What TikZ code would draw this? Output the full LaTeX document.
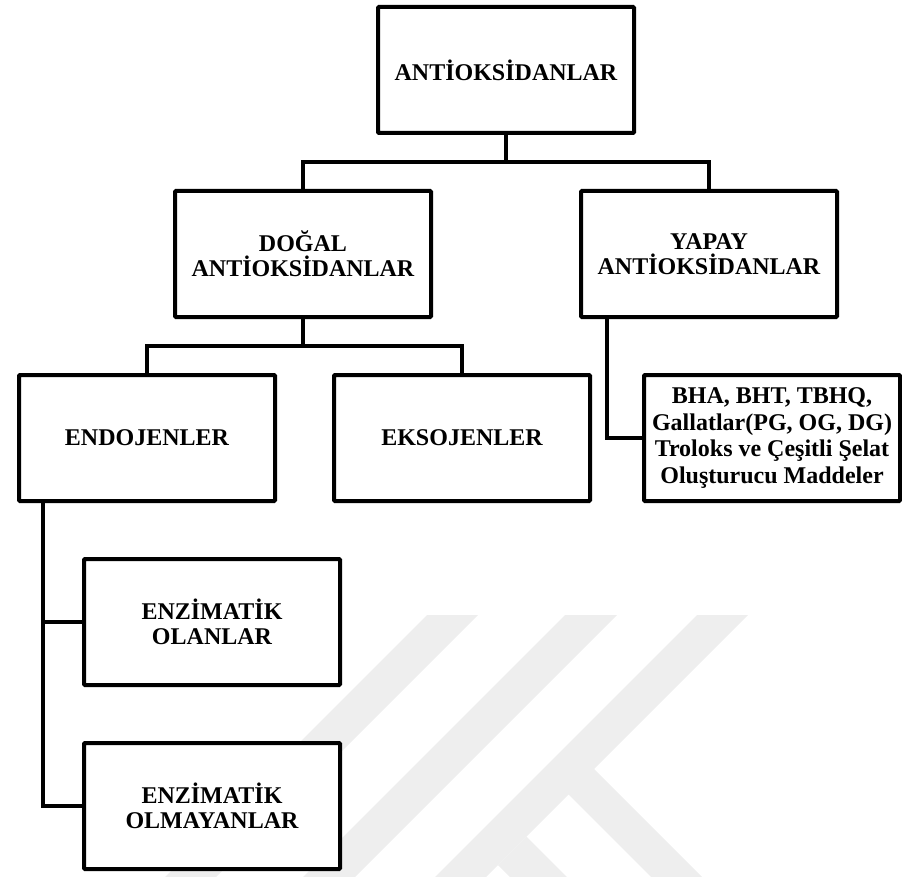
\documentclass[tikz,border=0pt]{standalone}
\usepackage{fontspec}
\setmainfont{Liberation Serif}
\usetikzlibrary{positioning}
\definecolor{wmgray}{RGB}{238,238,238}

\begin{document}
\begin{tikzpicture}[x=1pt, y=1pt, node distance=54pt,
  font=\fontsize{24}{25}\selectfont\bfseries,
  box/.style={draw, line width=4pt, rounded corners=1pt, fill=white, align=center,
              minimum width=256pt, minimum height=126pt, inner sep=2pt},
  link/.style={line width=4pt}]
\useasboundingbox (0,0) rectangle (902,-877);
% pale stripes in the background
\fill[wmgray] (427,-615) -- (478,-615) -- (216,-877) -- (165,-877) -- cycle;
\fill[wmgray] (565,-615) -- (617,-615) -- (355,-877) -- (303,-877) -- cycle;
\fill[wmgray] (697,-615) -- (748,-615) -- (486,-877) -- (435,-877) -- cycle;
\fill[wmgray] (593,-768) -- (702,-877) -- (651,-877) -- (567,-793) -- cycle;
\fill[wmgray] (526.5,-836.5) -- (567,-877) -- (510,-877) -- (498,-865) -- cycle;
% Level 0
\node[box] (anti) at (506,-70) {ANTİOKSİDANLAR};
% Level 1
\node[box, below=of anti, xshift=-203pt] (dogal) {DOĞAL\\ANTİOKSİDANLAR};
\node[box, below=of anti, xshift=203pt] (yapay) {YAPAY\\ANTİOKSİDANLAR};
\coordinate[below=27pt of anti] (f0);
\draw[link] (anti.south) -- (f0);
\draw[link] (dogal.north) |- (f0) -| (yapay.north);
% Level 2
\node[box, below=of dogal, xshift=-156pt] (endo) {ENDOJENLER};
\node[box, below=of dogal, xshift=159pt] (ekso) {EKSOJENLER};
\node[box, below=of yapay, xshift=63pt, font=\fontsize{24}{26.7}\selectfont\bfseries] (sentetik)
  {BHA, BHT, TBHQ,\\Gallatlar(PG, OG, DG)\\Troloks ve Çeşitli Şelat\\Oluşturucu Maddeler};
\coordinate[below=27pt of dogal] (f1);
\draw[link] (dogal.south) -- (f1);
\draw[link] (endo.north) |- (f1) -| (ekso.north);
\draw[link] ([xshift=28pt]yapay.south west) |- (sentetik.west);
% Level 3
\node[box, below=of endo, xshift=65pt] (enzim) {ENZİMATİK\\OLANLAR};
\node[box, below=of enzim] (nonenzim) {ENZİMATİK\\OLMAYANLAR};
\draw[link] ([xshift=26pt]endo.south west) |- (enzim.west);
\draw[link] ([xshift=26pt]endo.south west) |- (nonenzim.west);
\end{tikzpicture}
\end{document}
